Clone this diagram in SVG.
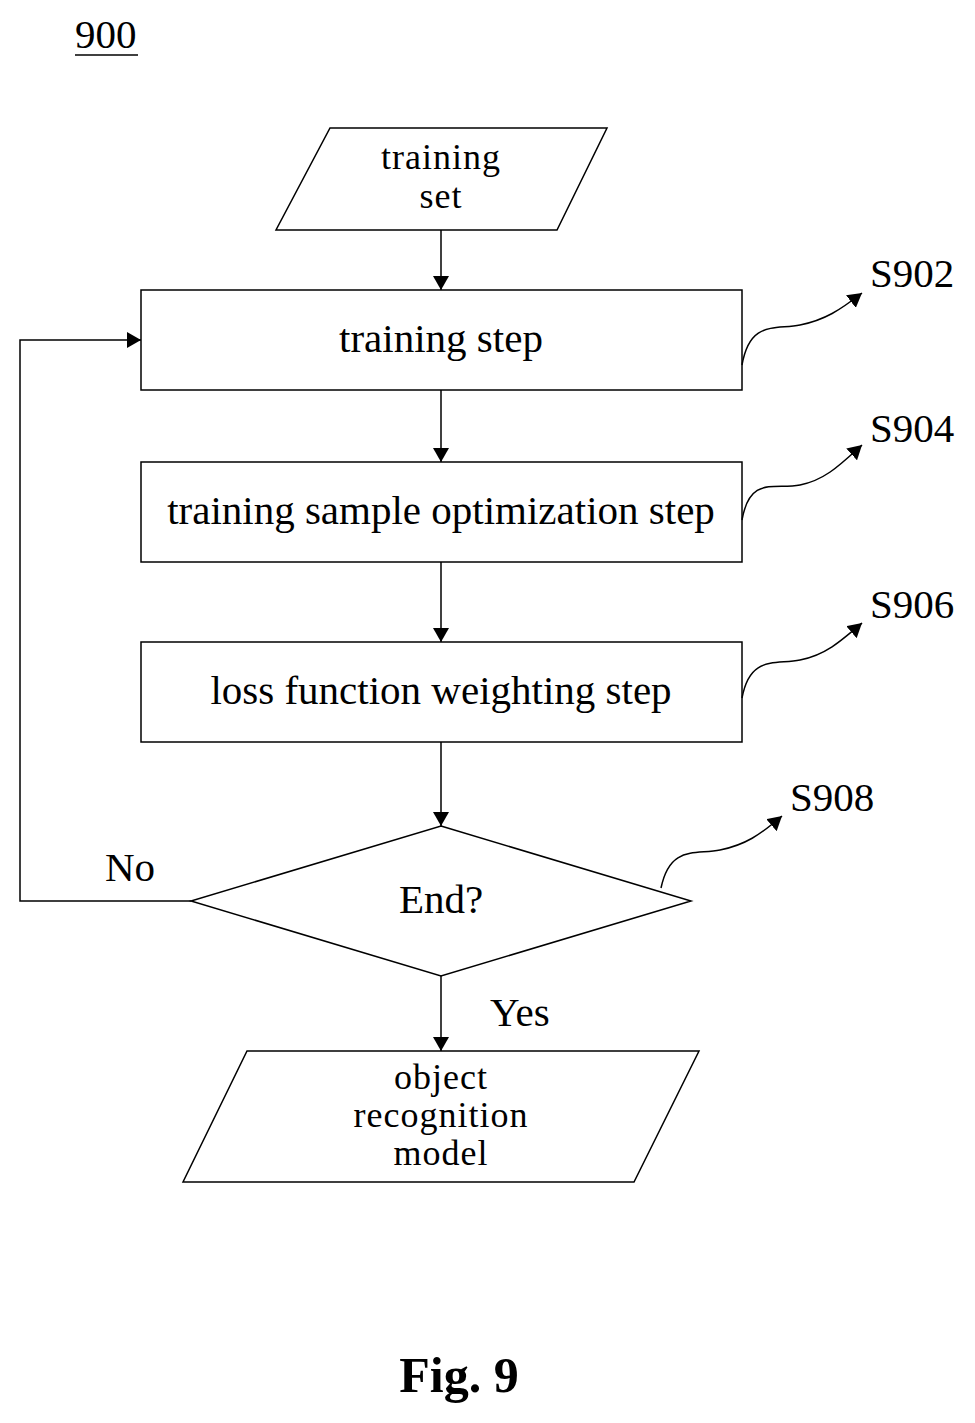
<svg xmlns="http://www.w3.org/2000/svg" width="975" height="1423" viewBox="0 0 975 1423">
<style>
.s{fill:none;stroke:#000;stroke-width:1.5}
.t{font-family:"Liberation Serif",serif;font-size:41px;text-anchor:middle}
.m{font-family:"Liberation Serif",serif;font-size:36px;letter-spacing:1px;text-anchor:middle}
.l{font-family:"Liberation Serif",serif;font-size:41px}
</style>
<defs><marker id="a" markerWidth="14" markerHeight="16" refX="14" refY="8" orient="auto" markerUnits="userSpaceOnUse"><path d="M0,0L14,8L0,16z"/></marker></defs>
<rect width="975" height="1423" fill="#fff"/>
<text class="l" x="75" y="48">900</text><line x1="75" y1="55" x2="138" y2="55" stroke="#000" stroke-width="1.5"/>
<g id="n1"><polygon class="s" points="330,128 607,128 557,230 276,230"/><text class="m" x="441" y="169">training</text><text class="m" x="441" y="208">set</text></g>
<g id="n2"><rect class="s" x="141" y="290" width="601" height="100"/><text class="t" x="441" y="352">training step</text></g>
<g id="n3"><rect class="s" x="141" y="462" width="601" height="100"/><text class="t" x="441" y="524">training sample optimization step</text></g>
<g id="n4"><rect class="s" x="141" y="642" width="601" height="100"/><text class="t" x="441" y="704">loss function weighting step</text></g>
<g id="n5"><polygon class="s" points="441,826 691,901 441,976 191,901"/><text class="t" x="441" y="913">End?</text></g>
<g id="n6"><polygon class="s" points="247,1051 699,1051 634,1182 183,1182"/><text class="m" x="441" y="1089">object</text><text class="m" x="441" y="1127">recognition</text><text class="m" x="441" y="1165">model</text></g>
<g id="c">
<line class="s" x1="441" y1="230" x2="441" y2="290" marker-end="url(#a)"/>
<line class="s" x1="441" y1="390" x2="441" y2="462" marker-end="url(#a)"/>
<line class="s" x1="441" y1="562" x2="441" y2="642" marker-end="url(#a)"/>
<line class="s" x1="441" y1="742" x2="441" y2="826" marker-end="url(#a)"/>
<line class="s" x1="441" y1="976" x2="441" y2="1051" marker-end="url(#a)"/>
<polyline class="s" points="191,901 20,901 20,340 141,340" marker-end="url(#a)"/>
<path class="s" d="M742,365C750,320 775,330 800,325S840,310 862,293" marker-end="url(#a)"/>
<path class="s" d="M742,520C750,475 775,490 800,485S840,465 862,445" marker-end="url(#a)"/>
<path class="s" d="M742,698C750,655 775,665 800,660S840,642 862,623" marker-end="url(#a)"/>
<path class="s" d="M661,888C670,845 695,855 720,850S760,835 782,816" marker-end="url(#a)"/>
</g>
<text class="l" x="870" y="287">S902</text>
<text class="l" x="870" y="442">S904</text>
<text class="l" x="870" y="618">S906</text>
<text class="l" x="790" y="811">S908</text>
<text class="l" x="105" y="881">No</text>
<text class="l" x="490" y="1026">Yes</text>
<text x="459" y="1392" style="font-family:'Liberation Serif',serif;font-size:50px;font-weight:bold;text-anchor:middle">Fig. 9</text>
</svg>
